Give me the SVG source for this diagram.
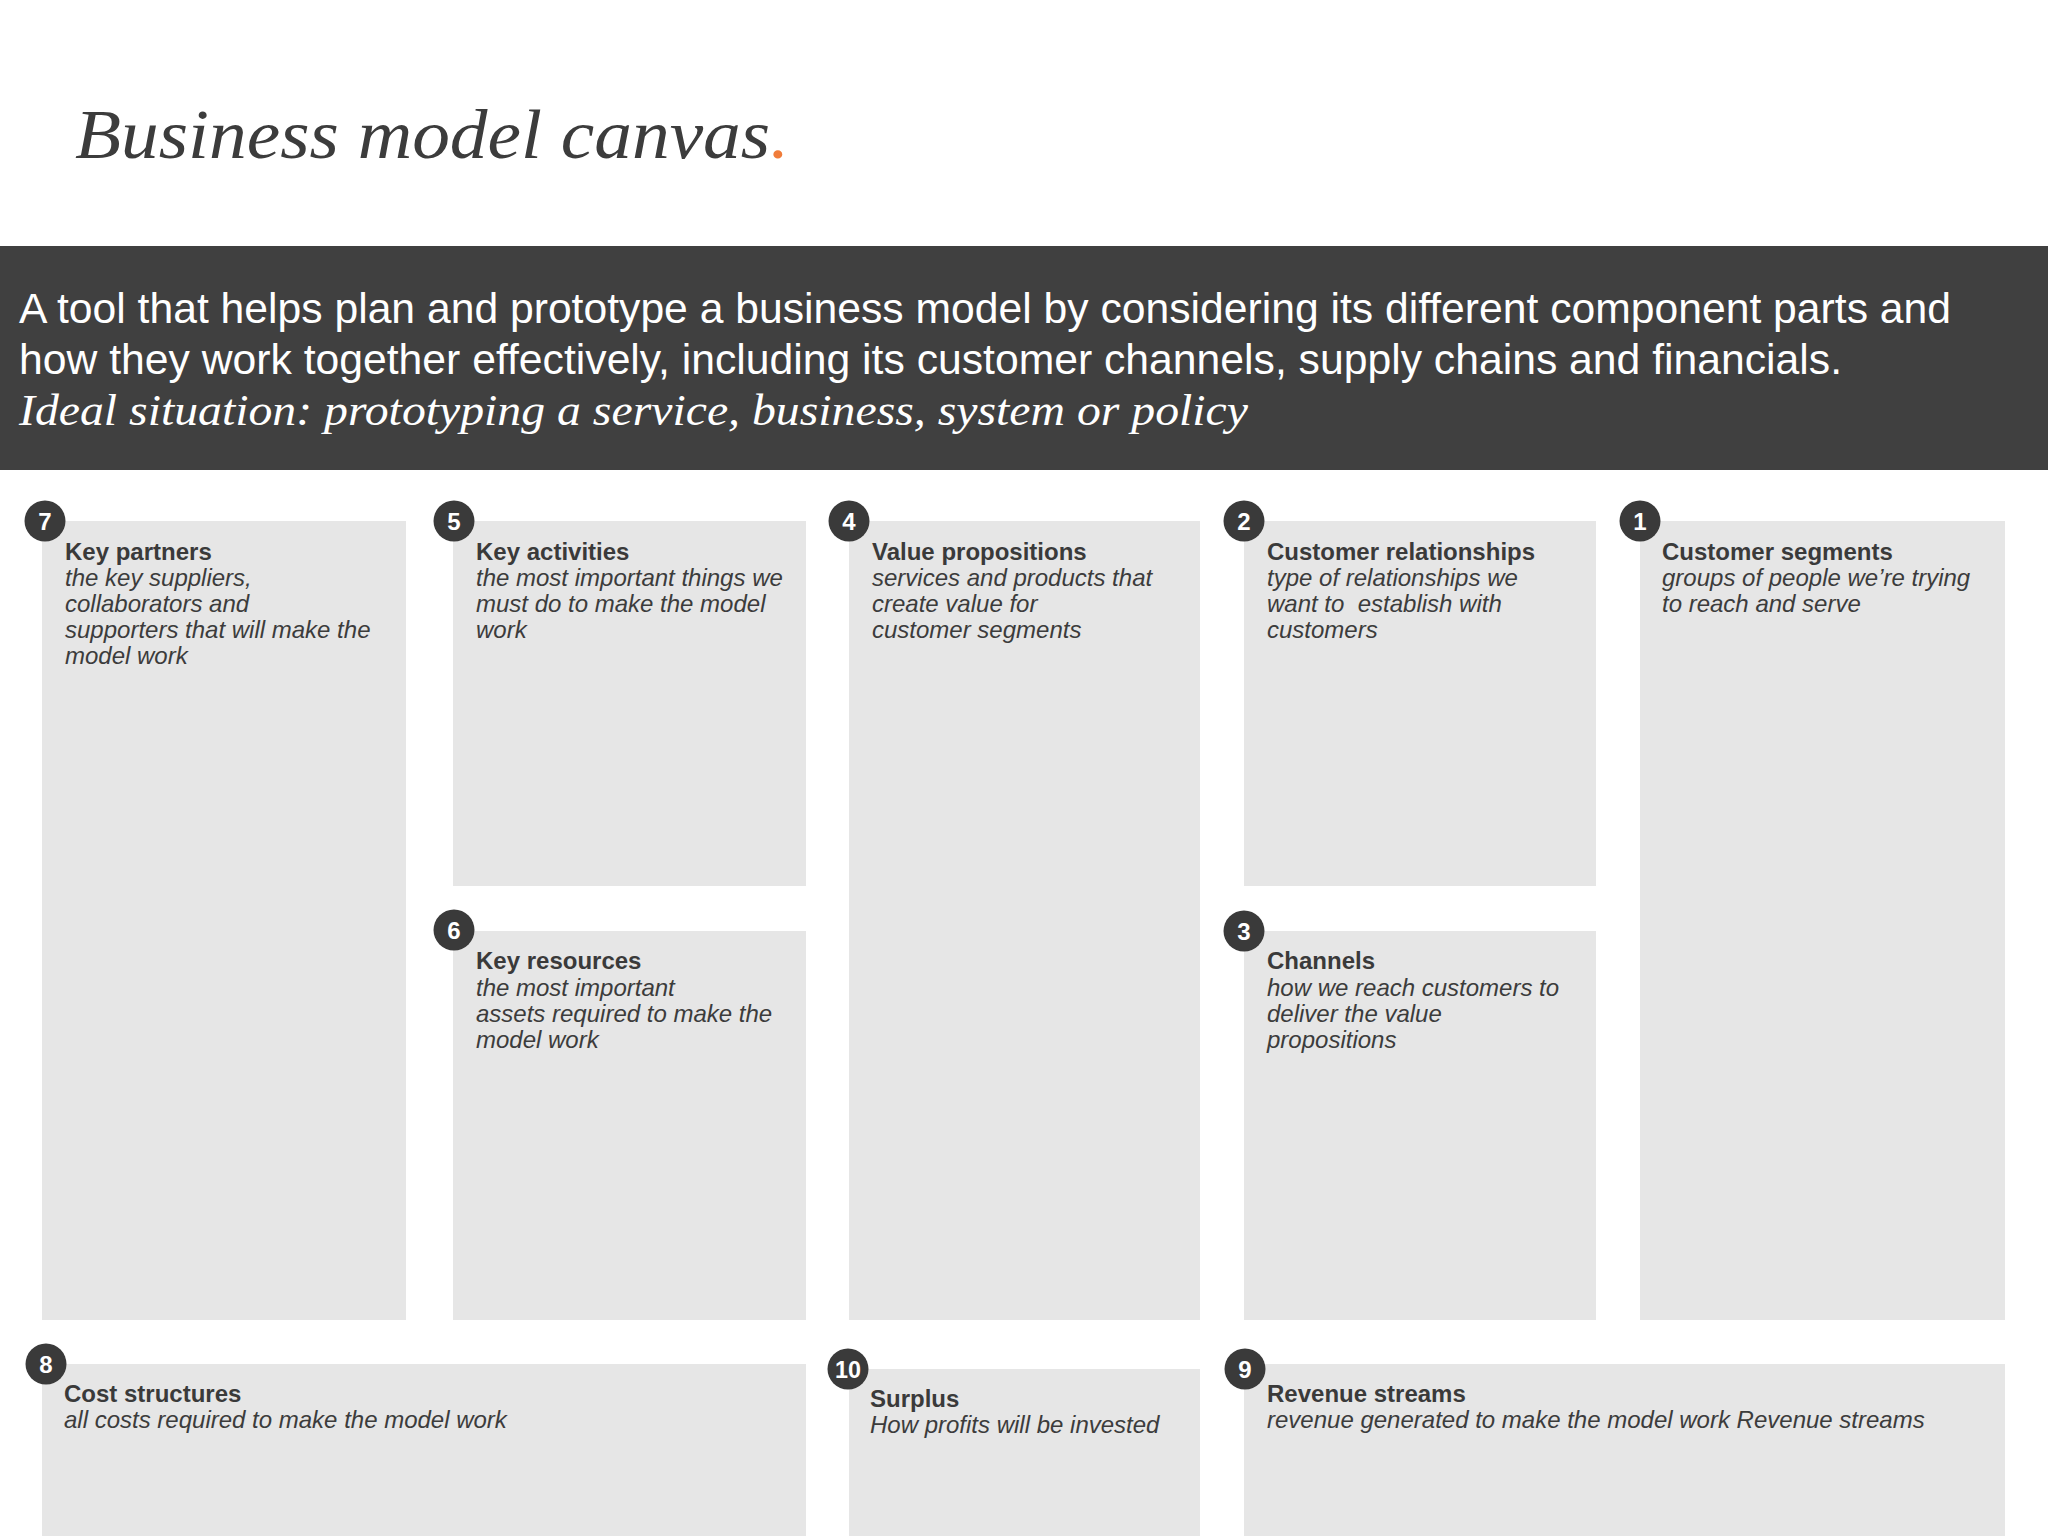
<svg xmlns="http://www.w3.org/2000/svg" width="2048" height="1536" viewBox="0 0 2048 1536">
<style>
.box{fill:#e6e6e6}
.num{fill:#3a3a3a}
.numt{font-family:"Liberation Sans",Arial,sans-serif;font-weight:bold;font-size:24px;fill:#ffffff;text-anchor:middle}
.ttl{font-family:"Liberation Sans",Arial,sans-serif;font-weight:bold;font-size:24px;fill:#3a3a3a}
.dsc{font-family:"Liberation Sans",Arial,sans-serif;font-style:italic;font-size:24px;fill:#3c3c3c}
.ban{font-family:"Liberation Sans",Arial,sans-serif;font-size:42px;fill:#ffffff}
.bans{font-family:"Liberation Serif","Times New Roman",serif;font-style:italic;font-size:44px;fill:#ffffff}
</style>
<rect x="0" y="0" width="2048" height="1536" fill="#ffffff"/>
<g id="title">
<text x="75" y="158" font-family="'Liberation Serif','Times New Roman',serif" font-style="italic" font-size="70" fill="#3c3c3c" textLength="714" lengthAdjust="spacingAndGlyphs">Business model canvas<tspan fill="#f07c3a">.</tspan></text>
</g>
<g id="banner">
<rect x="0" y="246" width="2048" height="224" fill="#404040"/>
<text class="ban" x="19" y="323" textLength="1932" lengthAdjust="spacingAndGlyphs">A tool that helps plan and prototype a business model by considering its different component parts and</text>
<text class="ban" x="19" y="374" textLength="1823" lengthAdjust="spacingAndGlyphs">how they work together effectively, including its customer channels, supply chains and financials.</text>
<text class="bans" x="19" y="425" textLength="1229" lengthAdjust="spacingAndGlyphs">Ideal situation: prototyping a service, business, system or policy</text>
</g>
<g id="key-partners">
<rect class="box" x="42" y="521" width="364" height="799"/>
<circle class="num" cx="45" cy="521" r="20.5"/>
<text class="numt" x="45" y="529.5">7</text>
<text class="ttl" x="65" y="560">Key partners</text>
<text class="dsc" x="65" y="586">the key suppliers,</text>
<text class="dsc" x="65" y="612">collaborators and</text>
<text class="dsc" x="65" y="638">supporters that will make the</text>
<text class="dsc" x="65" y="664">model work</text>
</g>
<g id="key-activities">
<rect class="box" x="453" y="521" width="353" height="365"/>
<circle class="num" cx="454" cy="521" r="20.5"/>
<text class="numt" x="454" y="529.5">5</text>
<text class="ttl" x="476" y="560">Key activities</text>
<text class="dsc" x="476" y="586">the most important things we</text>
<text class="dsc" x="476" y="612">must do to make the model</text>
<text class="dsc" x="476" y="638">work</text>
</g>
<g id="key-resources">
<rect class="box" x="453" y="931" width="353" height="389"/>
<circle class="num" cx="454" cy="930" r="20.5"/>
<text class="numt" x="454" y="938.5">6</text>
<text class="ttl" x="476" y="969">Key resources</text>
<text class="dsc" x="476" y="996">the most important</text>
<text class="dsc" x="476" y="1022">assets required to make the</text>
<text class="dsc" x="476" y="1048">model work</text>
</g>
<g id="value-propositions">
<rect class="box" x="849" y="521" width="351" height="799"/>
<circle class="num" cx="849" cy="521" r="20.5"/>
<text class="numt" x="849" y="529.5">4</text>
<text class="ttl" x="872" y="560">Value propositions</text>
<text class="dsc" x="872" y="586">services and products that</text>
<text class="dsc" x="872" y="612">create value for</text>
<text class="dsc" x="872" y="638">customer segments</text>
</g>
<g id="customer-relationships">
<rect class="box" x="1244" y="521" width="352" height="365"/>
<circle class="num" cx="1244" cy="521" r="20.5"/>
<text class="numt" x="1244" y="529.5">2</text>
<text class="ttl" x="1267" y="560">Customer relationships</text>
<text class="dsc" x="1267" y="586">type of relationships we</text>
<text class="dsc" x="1267" y="612">want to&#160; establish with</text>
<text class="dsc" x="1267" y="638">customers</text>
</g>
<g id="channels">
<rect class="box" x="1244" y="931" width="352" height="389"/>
<circle class="num" cx="1244" cy="931" r="20.5"/>
<text class="numt" x="1244" y="939.5">3</text>
<text class="ttl" x="1267" y="969">Channels</text>
<text class="dsc" x="1267" y="996">how we reach customers to</text>
<text class="dsc" x="1267" y="1022">deliver the value</text>
<text class="dsc" x="1267" y="1048">propositions</text>
</g>
<g id="customer-segments">
<rect class="box" x="1640" y="521" width="365" height="799"/>
<circle class="num" cx="1640" cy="521" r="20.5"/>
<text class="numt" x="1640" y="529.5">1</text>
<text class="ttl" x="1662" y="560">Customer segments</text>
<text class="dsc" x="1662" y="586">groups of people we’re trying</text>
<text class="dsc" x="1662" y="612">to reach and serve</text>
</g>
<g id="cost-structures">
<rect class="box" x="42" y="1364" width="764" height="172"/>
<circle class="num" cx="46" cy="1364" r="20.5"/>
<text class="numt" x="46" y="1372.5">8</text>
<text class="ttl" x="64" y="1402">Cost structures</text>
<text class="dsc" x="64" y="1428">all costs required to make the model work</text>
</g>
<g id="surplus">
<rect class="box" x="849" y="1369" width="351" height="167"/>
<circle class="num" cx="848" cy="1369" r="20.5"/>
<text class="numt" x="848" y="1377.5" textLength="26" lengthAdjust="spacingAndGlyphs">10</text>
<text class="ttl" x="870" y="1407">Surplus</text>
<text class="dsc" x="870" y="1433">How profits will be invested</text>
</g>
<g id="revenue-streams">
<rect class="box" x="1244" y="1364" width="761" height="172"/>
<circle class="num" cx="1245" cy="1369" r="20.5"/>
<text class="numt" x="1245" y="1377.5">9</text>
<text class="ttl" x="1267" y="1402">Revenue streams</text>
<text class="dsc" x="1267" y="1428">revenue generated to make the model work Revenue streams</text>
</g>
<g id="connectors"/>
</svg>
